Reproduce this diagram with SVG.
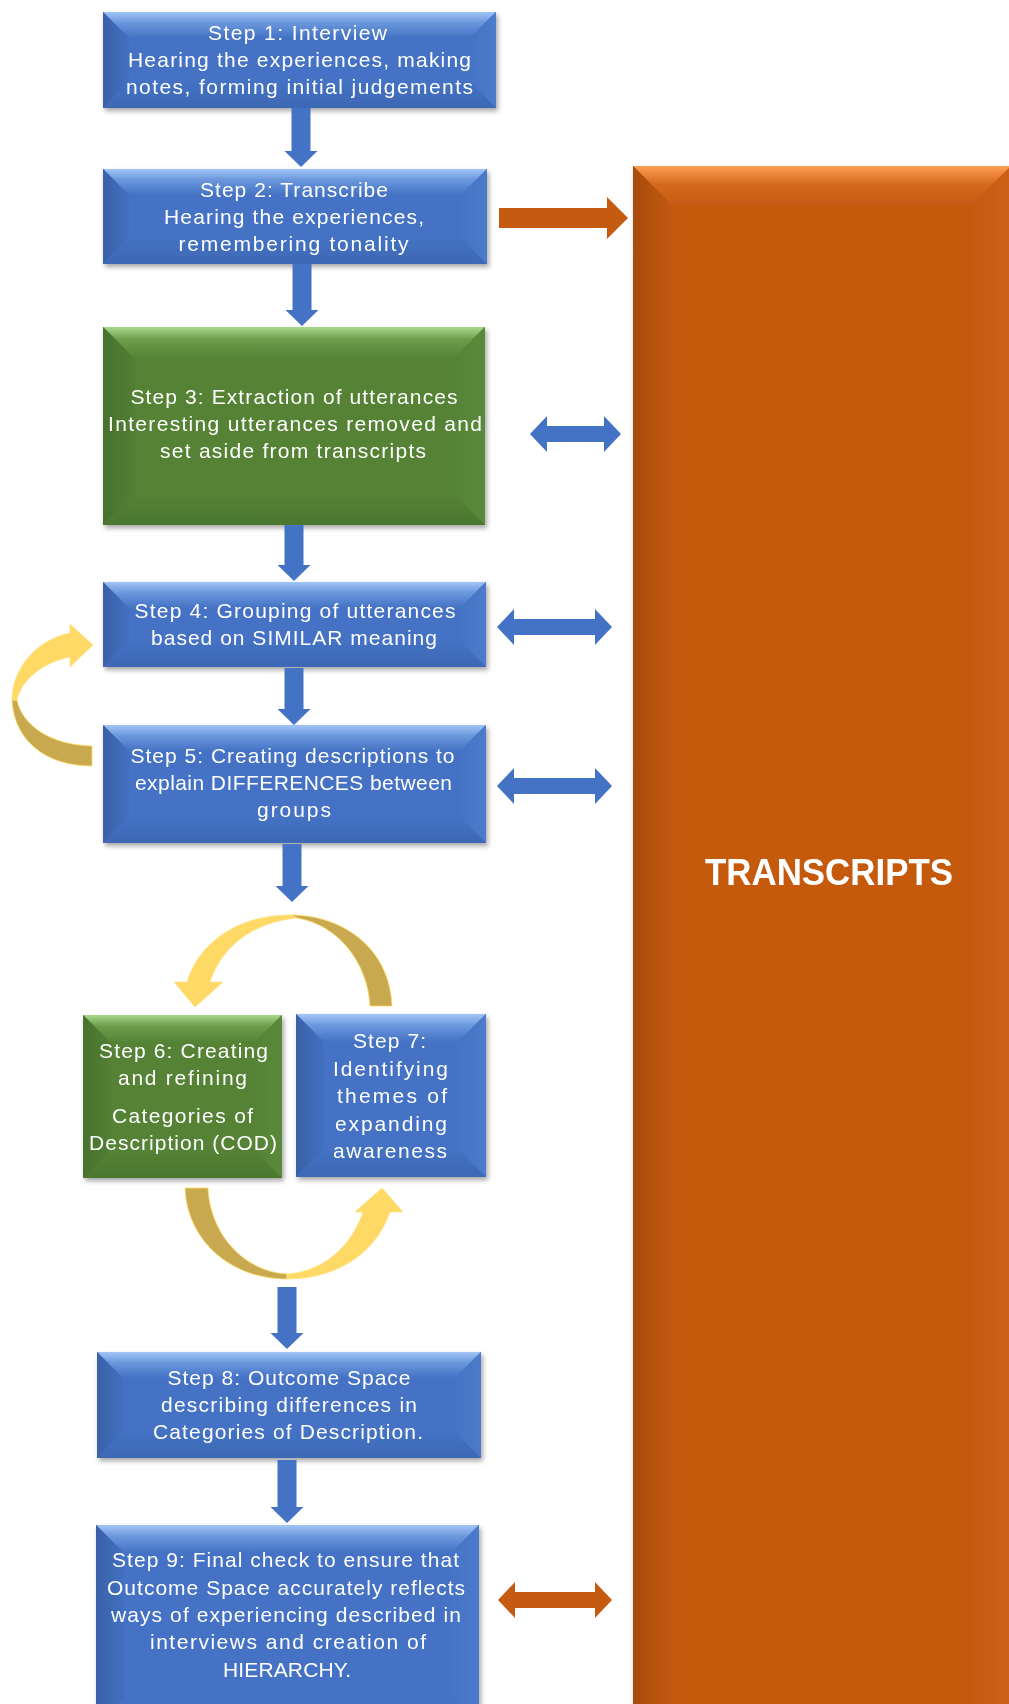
<svg xmlns="http://www.w3.org/2000/svg" width="1009" height="1704" viewBox="0 0 1009 1704">
  <defs>
    <style>
      .t { font-family: "Liberation Sans", Arial, sans-serif; font-size: 21px; fill: #ffffff; text-anchor: middle; }
      .big { font-family: "Liberation Sans", Arial, sans-serif; font-size: 37px; font-weight: bold; fill: #ffffff; text-anchor: middle; }
      .blue-base { fill: #4472C4; }
      .green-base { fill: #548235; }
      .orange-base { fill: #C55A11; }
      .arrow-blue { fill: #4472C4; }
      .arrow-orange { fill: #C55A11; }
      .ribbon-light { fill: #FFD966; stroke: #FFE38C; stroke-width: 0.8; }
      .ribbon-dark { fill: #C9A94F; stroke: #FFD966; stroke-width: 0.8; }
    </style>
    <filter id="shadow" x="-10%" y="-10%" width="125%" height="130%">
      <feDropShadow dx="2" dy="3" stdDeviation="2.5" flood-color="#000000" flood-opacity="0.35"/>
    </filter>
    <!-- bevel gradients: blue -->
    <linearGradient id="blueTop" x1="0" y1="0" x2="0" y2="1">
      <stop offset="0" stop-color="#A2C5F6"/>
      <stop offset="0.4" stop-color="#6C98DD"/>
      <stop offset="1" stop-color="#4472C4"/>
    </linearGradient>
    <linearGradient id="blueLeft" x1="0" y1="0" x2="1" y2="0">
      <stop offset="0" stop-color="#3A61A8"/>
      <stop offset="1" stop-color="#4270C0"/>
    </linearGradient>
    <linearGradient id="blueRight" x1="1" y1="0" x2="0" y2="0">
      <stop offset="0" stop-color="#4D7BCB"/>
      <stop offset="1" stop-color="#4573C5"/>
    </linearGradient>
    <linearGradient id="blueBottom" x1="0" y1="0" x2="0" y2="1">
      <stop offset="0" stop-color="#4472C4"/>
      <stop offset="1" stop-color="#3D68B4"/>
    </linearGradient>
    <!-- bevel gradients: green -->
    <linearGradient id="greenTop" x1="0" y1="0" x2="0" y2="1">
      <stop offset="0" stop-color="#A8D88A"/>
      <stop offset="0.4" stop-color="#6C9D4A"/>
      <stop offset="1" stop-color="#548235"/>
    </linearGradient>
    <linearGradient id="greenLeft" x1="0" y1="0" x2="1" y2="0">
      <stop offset="0" stop-color="#48722D"/>
      <stop offset="1" stop-color="#527F34"/>
    </linearGradient>
    <linearGradient id="greenRight" x1="1" y1="0" x2="0" y2="0">
      <stop offset="0" stop-color="#5A8A3A"/>
      <stop offset="1" stop-color="#558336"/>
    </linearGradient>
    <linearGradient id="greenBottom" x1="0" y1="0" x2="0" y2="1">
      <stop offset="0" stop-color="#548235"/>
      <stop offset="1" stop-color="#4B772F"/>
    </linearGradient>
    <!-- bevel gradients: orange -->
    <linearGradient id="orangeTop" x1="0" y1="0" x2="0" y2="1">
      <stop offset="0" stop-color="#FF9E55"/>
      <stop offset="0.45" stop-color="#D56A1E"/>
      <stop offset="1" stop-color="#C55A11"/>
    </linearGradient>
    <linearGradient id="orangeLeft" x1="0" y1="0" x2="1" y2="0">
      <stop offset="0" stop-color="#A94C0D"/>
      <stop offset="1" stop-color="#C35912"/>
    </linearGradient>
    <linearGradient id="orangeRight" x1="1" y1="0" x2="0" y2="0">
      <stop offset="0" stop-color="#CC6014"/>
      <stop offset="1" stop-color="#C55A11"/>
    </linearGradient>
  </defs>

  <rect x="0" y="0" width="1009" height="1704" fill="#ffffff"/>

  <!-- large TRANSCRIPTS panel on the right -->
  <g id="transcripts" filter="url(#shadow)">
    <rect class="orange-base" x="633" y="166" width="378" height="1594"/>
    <polygon fill="url(#orangeTop)" points="633,166 1011,166 971,206 673,206"/>
    <polygon fill="url(#orangeLeft)" points="633,166 673,206 673,1720 633,1760"/>
    <polygon fill="url(#orangeRight)" points="1011,166 1011,1760 971,1720 971,206"/>
    <text class="big" x="829" y="885" textLength="248" lengthAdjust="spacingAndGlyphs">TRANSCRIPTS</text>
  </g>

  <!-- Step 1 -->
  <g id="step1" filter="url(#shadow)">
    <rect class="blue-base" x="103" y="12" width="393" height="96"/>
    <polygon fill="url(#blueTop)" points="103,12 496,12 470,38 129,38"/>
    <polygon fill="url(#blueLeft)" points="103,12 129,38 129,82 103,108"/>
    <polygon fill="url(#blueRight)" points="496,12 496,108 470,82 470,38"/>
    <polygon fill="url(#blueBottom)" points="103,108 129,82 470,82 496,108"/>
    <text class="t" x="297.5" y="40" textLength="179" lengthAdjust="spacing">Step 1: Interview</text>
    <text class="t" x="299.5" y="67" textLength="343" lengthAdjust="spacing">Hearing the experiences, making</text>
    <text class="t" x="299.5" y="94" textLength="347" lengthAdjust="spacing">notes, forming initial judgements</text>
  </g>

  <!-- Step 2 -->
  <g id="step2" filter="url(#shadow)">
    <rect class="blue-base" x="103" y="169" width="384" height="95"/>
    <polygon fill="url(#blueTop)" points="103,169 487,169 461,195 129,195"/>
    <polygon fill="url(#blueLeft)" points="103,169 129,195 129,238 103,264"/>
    <polygon fill="url(#blueRight)" points="487,169 487,264 461,238 461,195"/>
    <polygon fill="url(#blueBottom)" points="103,264 129,238 461,238 487,264"/>
    <text class="t" x="294" y="197" textLength="188" lengthAdjust="spacing">Step 2: Transcribe</text>
    <text class="t" x="294" y="224" textLength="260" lengthAdjust="spacing">Hearing the experiences,</text>
    <text class="t" x="293.5" y="251" textLength="230" lengthAdjust="spacing">remembering tonality</text>
  </g>

  <!-- Step 3 -->
  <g id="step3" filter="url(#shadow)">
    <rect class="green-base" x="103" y="327" width="382" height="198"/>
    <polygon fill="url(#greenTop)" points="103,327 485,327 453,359 135,359"/>
    <polygon fill="url(#greenLeft)" points="103,327 135,359 135,493 103,525"/>
    <polygon fill="url(#greenRight)" points="485,327 485,525 453,493 453,359"/>
    <polygon fill="url(#greenBottom)" points="103,525 135,493 453,493 485,525"/>
    <text class="t" x="294" y="404" textLength="327" lengthAdjust="spacing">Step 3: Extraction of utterances</text>
    <text class="t" x="295" y="431" textLength="374" lengthAdjust="spacing">Interesting utterances removed and</text>
    <text class="t" x="293" y="458" textLength="266" lengthAdjust="spacing">set aside from transcripts</text>
  </g>

  <!-- Step 4 -->
  <g id="step4" filter="url(#shadow)">
    <rect class="blue-base" x="103" y="582" width="383" height="85"/>
    <polygon fill="url(#blueTop)" points="103,582 486,582 460,608 129,608"/>
    <polygon fill="url(#blueLeft)" points="103,582 129,608 129,641 103,667"/>
    <polygon fill="url(#blueRight)" points="486,582 486,667 460,641 460,608"/>
    <polygon fill="url(#blueBottom)" points="103,667 129,641 460,641 486,667"/>
    <text class="t" x="295" y="618" textLength="321" lengthAdjust="spacing">Step 4: Grouping of utterances</text>
    <text class="t" x="294" y="645" textLength="286" lengthAdjust="spacing">based on SIMILAR meaning</text>
  </g>

  <!-- Step 5 -->
  <g id="step5" filter="url(#shadow)">
    <rect class="blue-base" x="103" y="725" width="383" height="118"/>
    <polygon fill="url(#blueTop)" points="103,725 486,725 460,751 129,751"/>
    <polygon fill="url(#blueLeft)" points="103,725 129,751 129,817 103,843"/>
    <polygon fill="url(#blueRight)" points="486,725 486,843 460,817 460,751"/>
    <polygon fill="url(#blueBottom)" points="103,843 129,817 460,817 486,843"/>
    <text class="t" x="292.5" y="763" textLength="324" lengthAdjust="spacing">Step 5: Creating descriptions to</text>
    <text class="t" x="293.5" y="790" textLength="317" lengthAdjust="spacing">explain DIFFERENCES between</text>
    <text class="t" x="294" y="817" textLength="74" lengthAdjust="spacing">groups</text>
  </g>

  <!-- Step 6 -->
  <g id="step6" filter="url(#shadow)">
    <rect class="green-base" x="83" y="1015" width="199" height="163"/>
    <polygon fill="url(#greenTop)" points="83,1015 282,1015 254,1043 111,1043"/>
    <polygon fill="url(#greenLeft)" points="83,1015 111,1043 111,1150 83,1178"/>
    <polygon fill="url(#greenRight)" points="282,1015 282,1178 254,1150 254,1043"/>
    <polygon fill="url(#greenBottom)" points="83,1178 111,1150 254,1150 282,1178"/>
    <text class="t" x="183.5" y="1058" textLength="169" lengthAdjust="spacing">Step 6: Creating</text>
    <text class="t" x="182.5" y="1085" textLength="129" lengthAdjust="spacing">and refining</text>
    <text class="t" x="182.5" y="1123" textLength="141" lengthAdjust="spacing">Categories of</text>
    <text class="t" x="183" y="1150" textLength="188" lengthAdjust="spacing">Description (COD)</text>
  </g>

  <!-- Step 7 -->
  <g id="step7" filter="url(#shadow)">
    <rect class="blue-base" x="296" y="1014" width="190" height="163"/>
    <polygon fill="url(#blueTop)" points="296,1014 486,1014 458,1042 324,1042"/>
    <polygon fill="url(#blueLeft)" points="296,1014 324,1042 324,1149 296,1177"/>
    <polygon fill="url(#blueRight)" points="486,1014 486,1177 458,1149 458,1042"/>
    <polygon fill="url(#blueBottom)" points="296,1177 324,1149 458,1149 486,1177"/>
    <text class="t" x="389.5" y="1048" textLength="73" lengthAdjust="spacing">Step 7:</text>
    <text class="t" x="390.5" y="1076" textLength="115" lengthAdjust="spacing">Identifying</text>
    <text class="t" x="392" y="1103" textLength="110" lengthAdjust="spacing">themes of</text>
    <text class="t" x="391" y="1131" textLength="112" lengthAdjust="spacing">expanding</text>
    <text class="t" x="390" y="1158" textLength="114" lengthAdjust="spacing">awareness</text>
  </g>

  <!-- Step 8 -->
  <g id="step8" filter="url(#shadow)">
    <rect class="blue-base" x="97" y="1352" width="384" height="106"/>
    <polygon fill="url(#blueTop)" points="97,1352 481,1352 455,1378 123,1378"/>
    <polygon fill="url(#blueLeft)" points="97,1352 123,1378 123,1432 97,1458"/>
    <polygon fill="url(#blueRight)" points="481,1352 481,1458 455,1432 455,1378"/>
    <polygon fill="url(#blueBottom)" points="97,1458 123,1432 455,1432 481,1458"/>
    <text class="t" x="289" y="1385" textLength="243" lengthAdjust="spacing">Step 8: Outcome Space</text>
    <text class="t" x="289" y="1412" textLength="256" lengthAdjust="spacing">describing differences in</text>
    <text class="t" x="288" y="1439" textLength="270" lengthAdjust="spacing">Categories of Description.</text>
  </g>

  <!-- Step 9 (runs past the bottom edge) -->
  <g id="step9" filter="url(#shadow)">
    <rect class="blue-base" x="96" y="1525" width="383" height="200"/>
    <polygon fill="url(#blueTop)" points="96,1525 479,1525 451,1553 124,1553"/>
    <polygon fill="url(#blueLeft)" points="96,1525 124,1553 124,1697 96,1725"/>
    <polygon fill="url(#blueRight)" points="479,1525 479,1725 451,1697 451,1553"/>
    <text class="t" x="285.5" y="1567" textLength="347" lengthAdjust="spacing">Step 9: Final check to ensure that</text>
    <text class="t" x="286" y="1595" textLength="358" lengthAdjust="spacing">Outcome Space accurately reflects</text>
    <text class="t" x="286" y="1622" textLength="350" lengthAdjust="spacing">ways of experiencing described in</text>
    <text class="t" x="288" y="1649" textLength="276" lengthAdjust="spacing">interviews and creation of</text>
    <text class="t" x="287" y="1677" textLength="128" lengthAdjust="spacing">HIERARCHY.</text>
  </g>

  <!-- connectors -->
  <g id="connectors">
    <!-- downward flow arrows -->
    <path class="arrow-blue" d="M291.5 108 H310.5 V151 H317.5 L301 167 L284.5 151 H291.5 Z"/>
    <path class="arrow-blue" d="M292.5 264 H311.5 V310 H318.5 L302 326 L285.5 310 H292.5 Z"/>
    <path class="arrow-blue" d="M284.5 525 H303.5 V565 H310.5 L294 581 L277.5 565 H284.5 Z"/>
    <path class="arrow-blue" d="M284.5 668 H303.5 V709 H310.5 L294 725 L277.5 709 H284.5 Z"/>
    <path class="arrow-blue" d="M282.5 844 H301.5 V886 H308.5 L292 902 L275.5 886 H282.5 Z"/>
    <path class="arrow-blue" d="M277.5 1287 H296.5 V1333 H303.5 L287 1349 L270.5 1333 H277.5 Z"/>
    <path class="arrow-blue" d="M277.5 1460 H296.5 V1507 H303.5 L287 1523 L270.5 1507 H277.5 Z"/>

    <!-- links to the transcripts panel -->
    <path class="arrow-orange" d="M499 208 H607 V197 L628 218 L607 239 V228 H499 Z"/>
    <path class="arrow-blue" d="M530 434 L547 416 V426 H604 V416 L621 434 L604 452 V442 H547 V452 Z"/>
    <path class="arrow-blue" d="M497 627 L514 609 V619 H595 V609 L612 627 L595 645 V635 H514 V645 Z"/>
    <path class="arrow-blue" d="M497 786 L514 768 V778 H595 V768 L612 786 L595 804 V794 H514 V804 Z"/>
    <path class="arrow-orange" d="M498 1600 L515 1582 V1592 H595 V1582 L612 1600 L595 1618 V1608 H515 V1618 Z"/>

    <!-- loop from step 5 back to step 4 -->
    <path class="ribbon-dark" d="M12 700 L17 700 C22 725 50 745 92 746 L92 766 C45 766 14 740 12 700 Z"/>
    <path class="ribbon-light" d="M12 700 C12 670 35 640 70 633 L70 624 L93 645 L70 667 L70 657 C45 662 22 678 17 700 Z"/>

    <!-- cycle between step 6 and step 7: upper arc -->
    <path class="ribbon-dark" d="M290 915 C345 915 390 950 392 1006 L370 1006 C368 965 340 925 297 918 Z"/>
    <path class="ribbon-light" d="M187 982 C198 945 235 915 290 915 L297 918 C255 922 222 945 210 982 L223 982 L195 1007 L174 982 Z"/>

    <!-- cycle between step 6 and step 7: lower arc -->
    <path class="ribbon-dark" d="M185 1188 L208 1188 C210 1235 245 1272 287 1274 L287 1279 C230 1279 187 1240 185 1188 Z"/>
    <path class="ribbon-light" d="M287 1279 C335 1279 375 1255 390 1212 L403 1212 L382 1188 L355 1212 L363 1212 C350 1250 320 1272 287 1274 Z"/>
  </g>
</svg>
